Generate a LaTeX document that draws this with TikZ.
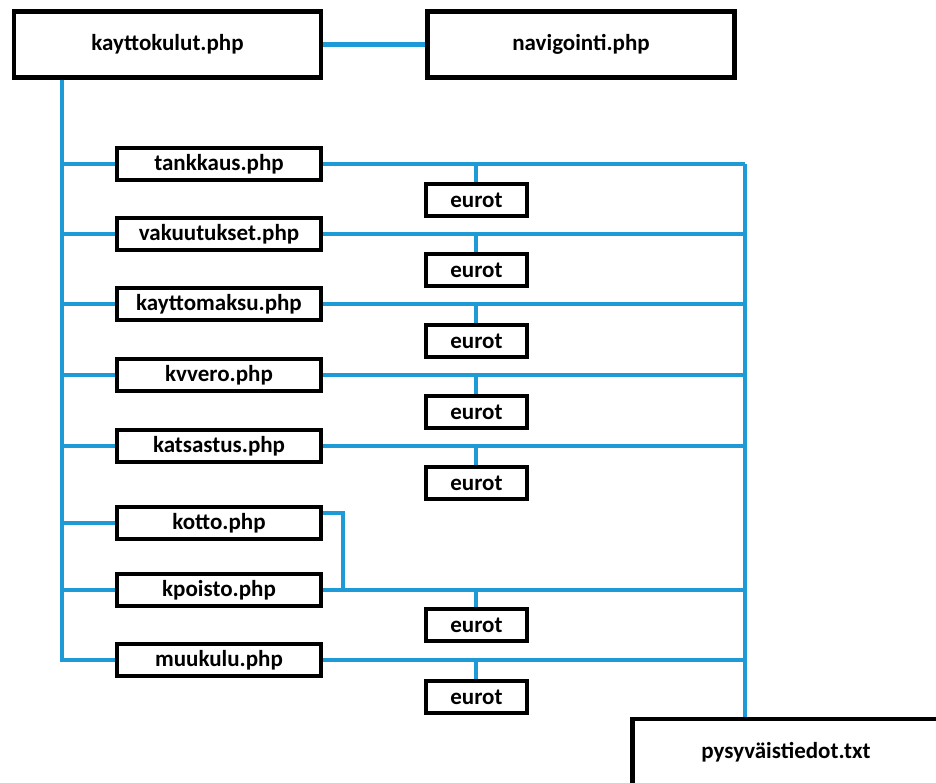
\documentclass[tikz,border=0pt]{standalone}
\usepackage{fontspec}
\setmainfont{Carlito}
\usetikzlibrary{backgrounds}
\definecolor{lineblue}{RGB}{30,155,215}
\begin{document}
\begin{tikzpicture}[x=1pt,y=-1pt,
  box/.style={draw=black,line width=4.5pt,fill=white,inner sep=0pt,
    font=\bfseries\fontsize{23}{26}\selectfont},
  bigbox/.style={box,minimum width=307pt,minimum height=66pt},
  filebox/.style={box,minimum width=204pt,minimum height=32pt},
  eurobox/.style={box,minimum width=101pt,minimum height=32pt},
  link/.style={draw=lineblue,line width=4.5pt}]
\useasboundingbox (0,0) rectangle (936,783);
\coordinate (trunk) at (62,0);
\coordinate (rail) at (745,0);
\coordinate (drop) at (476,0);
% nodes
\node[bigbox] (kay) at (167.5,44.5) {kayttokulut.php};
\node[bigbox] (nav) at (581,44.5) {navigointi.php};
\node[filebox] (tank) at (219,164) {tankkaus.php};
\node[filebox] (vak) at (219,234) {vakuutukset.php};
\node[filebox] (kmak) at (219,304) {kayttomaksu.php};
\node[filebox] (kvv) at (219,375) {kvvero.php};
\node[filebox] (kats) at (219,446) {katsastus.php};
\node[filebox] (kot) at (219,523) {kotto.php};
\node[filebox] (kpo) at (219,590) {kpoisto.php};
\node[filebox] (muu) at (219,660) {muukulu.php};
\node[eurobox] (e1) at (476.5,200) {eurot};
\node[eurobox] (e2) at (476.5,270) {eurot};
\node[eurobox] (e3) at (476.5,341) {eurot};
\node[eurobox] (e4) at (476.5,412) {eurot};
\node[eurobox] (e5) at (476.5,483) {eurot};
\node[eurobox] (e6) at (476.5,625) {eurot};
\node[eurobox] (e7) at (476.5,697) {eurot};
\node[bigbox] (pys) at (786,752) {\raisebox{4pt}{pysyväistiedot.txt}};
\begin{scope}[on background layer]
\fill[white] (0,0) rectangle (936,783);
\path[link] (kay.east) -- (nav.west);
\path[link] (trunk |- kay.south) -- (trunk |- muu.west) -- (muu.west);
\foreach \n in {tank,vak,kmak,kvv,kats,kot,kpo}
  \path[link] (trunk |- \n.west) -- (\n.west);
\path[link] (rail |- tank.east) -- (rail |- pys.north);
\foreach \n/\e in {tank/e1,vak/e2,kmak/e3,kvv/e4,kats/e5,kpo/e6,muu/e7}{
  \path[link] (\n.east) -- (rail |- \n.east);
  \path[link] (\e.north -| drop) -- (drop |- \n.east);
}
\coordinate (kotturn) at (343,513);
\path[link] ([yshift=10pt]kot.east) -- (kotturn) -- (kotturn |- kpo.east);
\end{scope}
\end{tikzpicture}
\end{document}
